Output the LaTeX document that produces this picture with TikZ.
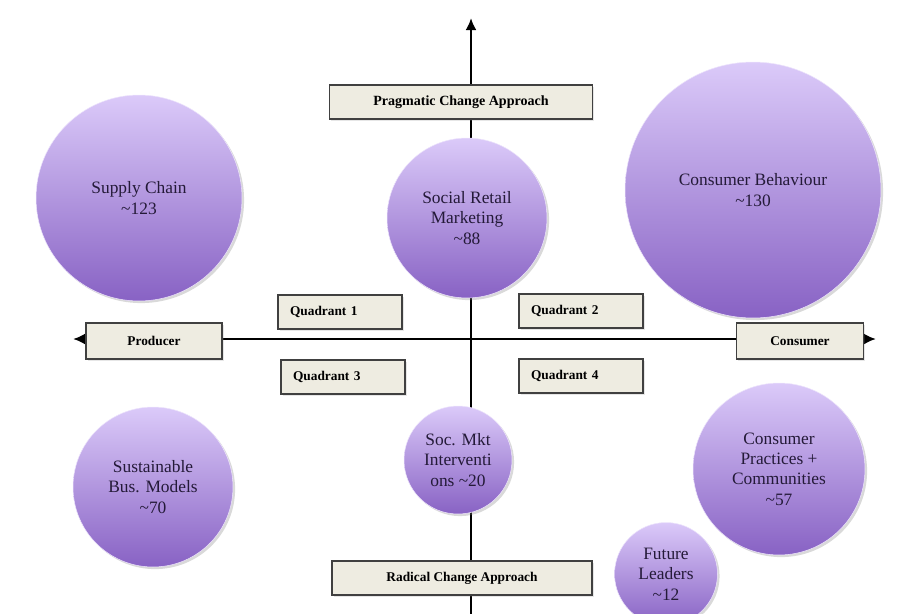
\documentclass[tikz,border=0pt]{standalone}
\usepackage{fontspec}
\setmainfont{Liberation Serif}
\usepackage{tikz}
\usetikzlibrary{arrows.meta,shadows}

\definecolor{bubtop}{RGB}{219,202,249}
\definecolor{bubbot}{RGB}{136,98,196}
\definecolor{tagfill}{RGB}{238,236,225}
\definecolor{inktext}{RGB}{36,26,56}

\begin{document}
\begin{tikzpicture}[x=0.02cm,y=-0.02cm,>=Latex,
  bubble/.style={circle,top color=bubtop,bottom color=bubbot,draw=bubtop!50!white,line width=0.3pt,align=center,text=inktext,font=\fontsize{9.9}{11.6}\selectfont,inner sep=0pt,drop shadow={opacity=0.3,shadow xshift=1.2pt,shadow yshift=-1.2pt}},
  tag/.style={draw=black!75,fill=tagfill,line width=0.7pt,font=\fontsize{7.6}{9}\selectfont\bfseries,minimum height=0.68cm,inner sep=2pt,drop shadow={opacity=0.2,shadow xshift=1pt,shadow yshift=-1pt}},
  quad/.style={tag,inner xsep=0.24cm,text width=2.0cm,align=left}]
\useasboundingbox (0,0) rectangle (920,613);
\coordinate (vtop) at (471,18);
\coordinate (vbot) at (471,625);
\coordinate (hleft) at (73,339);
\coordinate (hright) at (876,339);
\draw[line width=1.6pt,-{Latex[length=2.4mm,width=2.2mm]}] (vbot)--(vtop);
\draw[line width=1.6pt,{Latex[length=2.4mm,width=2.2mm]}-{Latex[length=2.4mm,width=2.2mm]}] (hleft)--(hright);

\node[bubble,minimum size=4.12cm] (supply) at (139,198) {Supply Chain\\\textasciitilde123};
\node[bubble,minimum size=3.2cm] (retail) at (467,218) {Social Retail\\Marketing\\\textasciitilde88};
\node[bubble,minimum size=5.12cm] (behav) at (753,190) {Consumer Behaviour\\\textasciitilde130};
\node[bubble,minimum size=3.2cm] (susbus) at (153,487) {Sustainable\\Bus. Models\\\textasciitilde70};
\node[bubble,minimum size=2.16cm] (intervent) at (458,460) {Soc. Mkt\\Interventi\\ons \textasciitilde20};
\node[bubble,minimum size=3.44cm] (practices) at (779,469) {Consumer\\Practices +\\Communities\\\textasciitilde57};
\node[bubble,minimum size=2.06cm] (leaders) at (666,574) {Future\\Leaders\\\textasciitilde12};

\node[tag,minimum width=5.26cm,font=\fontsize{8}{9}\selectfont\bfseries] (pragmatic) at (461,102) {Pragmatic Change Approach};
\node[tag,minimum width=5.2cm] (radical) at (462,578) {Radical Change Approach};
\node[tag,minimum width=2.72cm,minimum height=0.72cm] (producer) at (154,341) {Producer};
\node[tag,minimum width=2.54cm,minimum height=0.72cm] (consumer) at (800,341) {Consumer};
\node[quad] (quad1) at (340,312) {Quadrant 1};
\node[quad] (quad2) at (581,311) {Quadrant 2};
\node[quad] (quad3) at (343,377) {Quadrant 3};
\node[quad] (quad4) at (581,376) {Quadrant 4};
\end{tikzpicture}
\end{document}
